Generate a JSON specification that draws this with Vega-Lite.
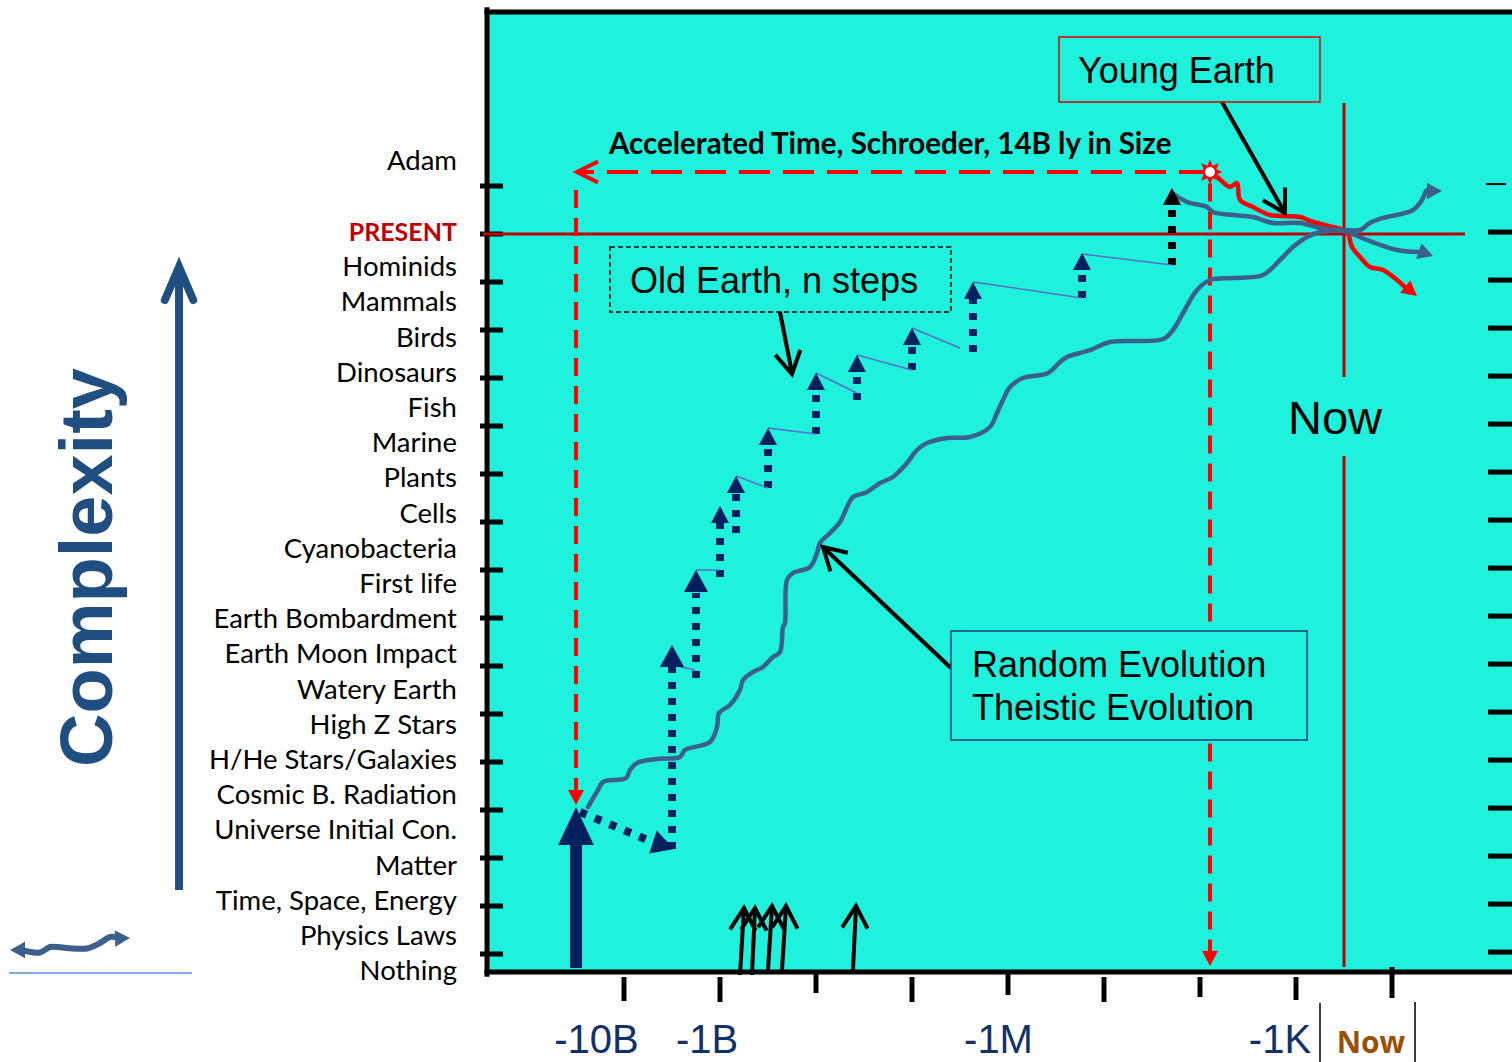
{
  "$schema": "https://vega.github.io/schema/vega-lite/v6.json",
  "width": 1512,
  "height": 1062,
  "autosize": {"type": "none"},
  "padding": 0,
  "background": "white",
  "config": {"view": {"stroke": null}},
  "datasets": {
    "frame": [{"x": -1.427, "x2": 9.3, "y": -0.375, "y2": 19.625}],
    "border": [
      {"x": -1.427, "y": -0.42, "x2": -1.427, "y2": 19.67},
      {"x": -1.427, "y": 19.625, "x2": 9.25, "y2": 19.625},
      {"x": -1.427, "y": -0.375, "x2": 9.25, "y2": -0.375}
    ],
    "ticks": [
      {"x": -1.5, "x2": -1.26, "y": 0, "y2": 0},
      {"x": -1.5, "x2": -1.26, "y": 1, "y2": 1},
      {"x": -1.5, "x2": -1.26, "y": 2, "y2": 2},
      {"x": -1.5, "x2": -1.26, "y": 3, "y2": 3},
      {"x": -1.5, "x2": -1.26, "y": 4, "y2": 4},
      {"x": -1.5, "x2": -1.26, "y": 5, "y2": 5},
      {"x": -1.5, "x2": -1.26, "y": 6, "y2": 6},
      {"x": -1.5, "x2": -1.26, "y": 7, "y2": 7},
      {"x": -1.5, "x2": -1.26, "y": 8, "y2": 8},
      {"x": -1.5, "x2": -1.26, "y": 9, "y2": 9},
      {"x": -1.5, "x2": -1.26, "y": 10, "y2": 10},
      {"x": -1.5, "x2": -1.26, "y": 11, "y2": 11},
      {"x": -1.5, "x2": -1.26, "y": 12, "y2": 12},
      {"x": -1.5, "x2": -1.26, "y": 13, "y2": 13},
      {"x": -1.5, "x2": -1.26, "y": 14, "y2": 14},
      {"x": -1.5, "x2": -1.26, "y": 15, "y2": 15},
      {"x": -1.5, "x2": -1.26, "y": 16, "y2": 16},
      {"x": 9.0, "x2": 9.25, "y": 0.04, "y2": 0.04},
      {"x": 9.0, "x2": 9.25, "y": 1.04, "y2": 1.04},
      {"x": 9.0, "x2": 9.25, "y": 2.04, "y2": 2.04},
      {"x": 9.0, "x2": 9.25, "y": 3.04, "y2": 3.04},
      {"x": 9.0, "x2": 9.25, "y": 4.04, "y2": 4.04},
      {"x": 9.0, "x2": 9.25, "y": 5.04, "y2": 5.04},
      {"x": 9.0, "x2": 9.25, "y": 6.04, "y2": 6.04},
      {"x": 9.0, "x2": 9.25, "y": 7.04, "y2": 7.04},
      {"x": 9.0, "x2": 9.25, "y": 8.04, "y2": 8.04},
      {"x": 9.0, "x2": 9.25, "y": 9.04, "y2": 9.04},
      {"x": 9.0, "x2": 9.25, "y": 10.04, "y2": 10.04},
      {"x": 9.0, "x2": 9.25, "y": 11.04, "y2": 11.04},
      {"x": 9.0, "x2": 9.25, "y": 12.04, "y2": 12.04},
      {"x": 9.0, "x2": 9.25, "y": 13.04, "y2": 13.04},
      {"x": 9.0, "x2": 9.25, "y": 14.04, "y2": 14.04},
      {"x": 9.0, "x2": 9.25, "y": 15.04, "y2": 15.04},
      {"x": 0, "x2": 0, "y": -0.479, "y2": -0.979},
      {"x": 1, "x2": 1, "y": -0.479, "y2": -1.0},
      {"x": 2, "x2": 2, "y": -0.333, "y2": -0.8125},
      {"x": 3, "x2": 3, "y": -0.479, "y2": -1.0},
      {"x": 4, "x2": 4, "y": -0.396, "y2": -0.854},
      {"x": 5, "x2": 5, "y": -0.479, "y2": -1.0},
      {"x": 6, "x2": 6, "y": -0.479, "y2": -0.896},
      {"x": 7, "x2": 7, "y": -0.479, "y2": -0.958},
      {"x": 8, "x2": 8, "y": -0.271, "y2": -0.917}
    ],
    "thintick": [{"x": 8.979, "x2": 9.188, "y": 16.04, "y2": 16.04}],
    "seps": [
      {"x": 7.25, "x2": 7.25, "y": -1.021, "y2": -2.3},
      {"x": 8.24, "x2": 8.24, "y": -1.0, "y2": -2.3}
    ],
    "redlines": [
      {"x": -1.469, "x2": 8.76, "y": 15.0, "y2": 15.0},
      {"x": 7.5, "x2": 7.5, "y": 17.729, "y2": 12.021},
      {"x": 7.5, "x2": 7.5, "y": 10.375, "y2": -0.271}
    ],
    "reddashh": [{"x": 6.104, "x2": -0.45, "y": 16.292, "y2": 16.292}],
    "reddashv": [
      {"x": -0.5, "x2": -0.5, "y": 15.917, "y2": 3.4},
      {"x": 6.104, "x2": 6.104, "y": 16.05, "y2": 0.06}
    ],
    "navydots": [
      {"x": -0.458, "y": 2.958, "x2": 0.323, "y2": 2.3125},
      {"x": 0.5, "y": 2.1875, "x2": 0.5, "y2": 5.979},
      {"x": 0.75, "y": 5.75, "x2": 0.75, "y2": 7.521},
      {"x": 1.0, "y": 7.854, "x2": 1.0, "y2": 8.979},
      {"x": 1.167, "y": 8.771, "x2": 1.167, "y2": 9.604},
      {"x": 1.5, "y": 9.708, "x2": 1.5, "y2": 10.583},
      {"x": 2.0, "y": 10.833, "x2": 2.0, "y2": 11.792},
      {"x": 2.427, "y": 11.542, "x2": 2.427, "y2": 12.125},
      {"x": 3.0, "y": 12.167, "x2": 3.0, "y2": 12.6875},
      {"x": 3.635, "y": 12.542, "x2": 3.635, "y2": 13.6875},
      {"x": 4.771, "y": 13.667, "x2": 4.771, "y2": 14.25}
    ],
    "blackdots": [{"x": 5.708, "y": 14.354, "x2": 5.708, "y2": 15.625}],
    "links": [
      {"x": 0.5, "y": 6.021, "x2": 0.74, "y2": 5.917},
      {"x": 0.75, "y": 8.0, "x2": 0.99, "y2": 8.0},
      {"x": 1.167, "y": 9.958, "x2": 1.5, "y2": 9.708},
      {"x": 1.5, "y": 10.958, "x2": 2.0, "y2": 10.833},
      {"x": 2.0, "y": 12.104, "x2": 2.427, "y2": 11.6875},
      {"x": 2.427, "y": 12.479, "x2": 3.0, "y2": 12.167},
      {"x": 3.0, "y": 13.042, "x2": 3.5, "y2": 12.625},
      {"x": 3.635, "y": 14.0, "x2": 4.771, "y2": 13.667},
      {"x": 4.771, "y": 14.583, "x2": 5.708, "y2": 14.354}
    ],
    "callouts": [
      {"x": 6.229, "y": 17.75, "x2": 6.885, "y2": 15.4375},
      {"x": 1.625, "y": 13.375, "x2": 1.75, "y2": 12.104},
      {"x": 3.406, "y": 5.958, "x2": 2.073, "y2": 8.479},
      {"x": 1.208, "y": -0.4375, "x2": 1.25, "y2": 0.958},
      {"x": 1.333, "y": -0.4375, "x2": 1.365, "y2": 0.958},
      {"x": 1.5, "y": -0.333, "x2": 1.542, "y2": 1.0},
      {"x": 1.646, "y": -0.333, "x2": 1.6875, "y2": 1.0},
      {"x": 2.385, "y": -0.333, "x2": 2.417, "y2": 1.0}
    ],
    "navyshaft": [{"x": -0.5, "y": -0.292, "x2": -0.5, "y2": 2.3}],
    "cpxshaft": [{"x": -4.635, "y": 1.333, "x2": -4.635, "y2": 14.146}],
    "bluethin": [{"x": -6.406, "y": -0.396, "x2": -4.5, "y2": -0.396}],
    "redcurve": [
      {"i": 1, "x": 6.125, "y": 16.25},
      {"i": 2, "x": 6.177, "y": 16.188},
      {"i": 3, "x": 6.3125, "y": 15.979},
      {"i": 4, "x": 6.385, "y": 16.063},
      {"i": 5, "x": 6.417, "y": 15.708},
      {"i": 6, "x": 6.552, "y": 15.5625},
      {"i": 7, "x": 6.729, "y": 15.396},
      {"i": 8, "x": 7.042, "y": 15.354},
      {"i": 9, "x": 7.177, "y": 15.25},
      {"i": 10, "x": 7.385, "y": 15.146},
      {"i": 11, "x": 7.531, "y": 15.042},
      {"i": 12, "x": 7.583, "y": 14.729},
      {"i": 13, "x": 7.667, "y": 14.521},
      {"i": 14, "x": 7.771, "y": 14.3125},
      {"i": 15, "x": 7.906, "y": 14.25},
      {"i": 16, "x": 8.052, "y": 14.042},
      {"i": 17, "x": 8.135, "y": 13.896}
    ],
    "bluecurves": [
      {"id": "main", "i": 1, "x": -0.375, "y": 3.0625},
      {"id": "main", "i": 2, "x": -0.271, "y": 3.417},
      {"id": "main", "i": 3, "x": -0.219, "y": 3.583},
      {"id": "main", "i": 4, "x": 0.021, "y": 3.667},
      {"id": "main", "i": 5, "x": 0.0625, "y": 3.833},
      {"id": "main", "i": 6, "x": 0.135, "y": 3.979},
      {"id": "main", "i": 7, "x": 0.344, "y": 4.0625},
      {"id": "main", "i": 8, "x": 0.583, "y": 4.104},
      {"id": "main", "i": 9, "x": 0.635, "y": 4.25},
      {"id": "main", "i": 10, "x": 0.896, "y": 4.417},
      {"id": "main", "i": 11, "x": 0.969, "y": 4.729},
      {"id": "main", "i": 12, "x": 0.99, "y": 5.021},
      {"id": "main", "i": 13, "x": 1.104, "y": 5.1875},
      {"id": "main", "i": 14, "x": 1.208, "y": 5.5},
      {"id": "main", "i": 15, "x": 1.24, "y": 5.708},
      {"id": "main", "i": 16, "x": 1.344, "y": 5.875},
      {"id": "main", "i": 17, "x": 1.448, "y": 5.979},
      {"id": "main", "i": 18, "x": 1.552, "y": 6.1875},
      {"id": "main", "i": 19, "x": 1.625, "y": 6.292},
      {"id": "main", "i": 20, "x": 1.656, "y": 6.8125},
      {"id": "main", "i": 21, "x": 1.677, "y": 6.896},
      {"id": "main", "i": 22, "x": 1.698, "y": 7.792},
      {"id": "main", "i": 23, "x": 1.76, "y": 7.9375},
      {"id": "main", "i": 24, "x": 1.9375, "y": 8.0625},
      {"id": "main", "i": 25, "x": 2.01, "y": 8.354},
      {"id": "main", "i": 26, "x": 2.042, "y": 8.5625},
      {"id": "main", "i": 27, "x": 2.146, "y": 8.771},
      {"id": "main", "i": 28, "x": 2.25, "y": 9.0},
      {"id": "main", "i": 29, "x": 2.323, "y": 9.3125},
      {"id": "main", "i": 30, "x": 2.385, "y": 9.521},
      {"id": "main", "i": 31, "x": 2.531, "y": 9.625},
      {"id": "main", "i": 32, "x": 2.667, "y": 9.8125},
      {"id": "main", "i": 33, "x": 2.802, "y": 9.9375},
      {"id": "main", "i": 34, "x": 2.948, "y": 10.229},
      {"id": "main", "i": 35, "x": 3.052, "y": 10.5},
      {"id": "main", "i": 36, "x": 3.156, "y": 10.646},
      {"id": "main", "i": 37, "x": 3.365, "y": 10.75},
      {"id": "main", "i": 38, "x": 3.604, "y": 10.771},
      {"id": "main", "i": 39, "x": 3.8125, "y": 10.979},
      {"id": "main", "i": 40, "x": 3.885, "y": 11.271},
      {"id": "main", "i": 41, "x": 3.948, "y": 11.542},
      {"id": "main", "i": 42, "x": 4.021, "y": 11.8125},
      {"id": "main", "i": 43, "x": 4.156, "y": 12.0},
      {"id": "main", "i": 44, "x": 4.417, "y": 12.104},
      {"id": "main", "i": 45, "x": 4.542, "y": 12.333},
      {"id": "main", "i": 46, "x": 4.615, "y": 12.4375},
      {"id": "main", "i": 47, "x": 4.854, "y": 12.583},
      {"id": "main", "i": 48, "x": 5.0625, "y": 12.75},
      {"id": "main", "i": 49, "x": 5.615, "y": 12.8125},
      {"id": "main", "i": 50, "x": 5.719, "y": 13.0},
      {"id": "main", "i": 51, "x": 5.823, "y": 13.354},
      {"id": "main", "i": 52, "x": 5.969, "y": 13.833},
      {"id": "main", "i": 53, "x": 6.104, "y": 14.042},
      {"id": "main", "i": 54, "x": 6.344, "y": 14.083},
      {"id": "main", "i": 55, "x": 6.656, "y": 14.146},
      {"id": "main", "i": 56, "x": 6.833, "y": 14.458},
      {"id": "main", "i": 57, "x": 6.969, "y": 14.729},
      {"id": "main", "i": 58, "x": 7.115, "y": 14.938},
      {"id": "main", "i": 59, "x": 7.25, "y": 15.042},
      {"id": "main", "i": 60, "x": 7.51, "y": 15.083},
      {"id": "main", "i": 61, "x": 7.667, "y": 15.083},
      {"id": "main", "i": 62, "x": 7.771, "y": 15.229},
      {"id": "main", "i": 63, "x": 7.906, "y": 15.333},
      {"id": "main", "i": 64, "x": 8.219, "y": 15.5},
      {"id": "main", "i": 65, "x": 8.3125, "y": 15.708},
      {"id": "main", "i": 66, "x": 8.365, "y": 15.917},
      {"id": "main", "i": 67, "x": 8.4, "y": 15.917},
      {"id": "upper", "i": 1, "x": 5.708, "y": 15.854},
      {"id": "upper", "i": 2, "x": 5.865, "y": 15.667},
      {"id": "upper", "i": 3, "x": 6.073, "y": 15.5625},
      {"id": "upper", "i": 4, "x": 6.135, "y": 15.458},
      {"id": "upper", "i": 5, "x": 6.344, "y": 15.396},
      {"id": "upper", "i": 6, "x": 6.552, "y": 15.354},
      {"id": "upper", "i": 7, "x": 6.76, "y": 15.229},
      {"id": "upper", "i": 8, "x": 7.042, "y": 15.229},
      {"id": "upper", "i": 9, "x": 7.25, "y": 15.125},
      {"id": "upper", "i": 10, "x": 7.531, "y": 15.042},
      {"id": "upper", "i": 11, "x": 7.74, "y": 14.875},
      {"id": "upper", "i": 12, "x": 8.052, "y": 14.667},
      {"id": "upper", "i": 13, "x": 8.292, "y": 14.625}
    ],
    "wavy": [
      {"i": 1, "x": -6.271, "y": 0.083},
      {"i": 2, "x": -6.083, "y": 0.03},
      {"i": 3, "x": -5.979, "y": 0.146},
      {"i": 4, "x": -5.802, "y": 0.125},
      {"i": 5, "x": -5.594, "y": 0.115},
      {"i": 6, "x": -5.458, "y": 0.229},
      {"i": 7, "x": -5.354, "y": 0.354},
      {"i": 8, "x": -5.271, "y": 0.333}
    ],
    "boxes": [
      {"box": "young", "x": 4.531, "x2": 7.25, "y": 19.104, "y2": 17.75},
      {"box": "old", "x": -0.146, "x2": 3.406, "y": 14.729, "y2": 13.375},
      {"box": "random", "x": 3.406, "x2": 7.115, "y": 6.729, "y2": 4.458}
    ],
    "heads": [
      {"cls": "big", "x": -0.5, "y": 3.0625, "dir": 0},
      {"cls": "med", "x": 0.5, "y": 6.4375, "dir": 0},
      {"cls": "med", "x": 0.75, "y": 8.0, "dir": 0},
      {"cls": "med", "x": 0.52, "y": 2.19, "dir": 108},
      {"cls": "small", "x": 1.0, "y": 9.333, "dir": 0},
      {"cls": "small", "x": 1.167, "y": 9.958, "dir": 0},
      {"cls": "small", "x": 1.5, "y": 10.958, "dir": 0},
      {"cls": "small", "x": 2.0, "y": 12.104, "dir": 0},
      {"cls": "small", "x": 2.427, "y": 12.479, "dir": 0},
      {"cls": "small", "x": 3.0, "y": 13.042, "dir": 0},
      {"cls": "small", "x": 3.635, "y": 14.0, "dir": 0},
      {"cls": "small", "x": 4.771, "y": 14.604, "dir": 0},
      {"cls": "smallk", "x": 5.708, "y": 15.958, "dir": 0},
      {"cls": "red", "x": -0.5, "y": 3.104, "dir": 180},
      {"cls": "red", "x": 6.104, "y": -0.25, "dir": 180},
      {"cls": "red", "x": 8.26, "y": 13.708, "dir": 129},
      {"cls": "blue", "x": 8.521, "y": 15.896, "dir": 90},
      {"cls": "blue", "x": 8.427, "y": 14.542, "dir": 109},
      {"cls": "blue", "x": -6.396, "y": 0.083, "dir": 270},
      {"cls": "blue", "x": -5.146, "y": 0.333, "dir": 88}
    ],
    "chevrons": [
      {"cls": "call", "x": 6.885, "y": 15.4375, "dir": 150},
      {"cls": "call", "x": 1.75, "y": 12.083, "dir": 169},
      {"cls": "call", "x": 2.073, "y": 8.479, "dir": 313},
      {"cls": "call", "x": 1.25, "y": 0.958, "dir": 3},
      {"cls": "call", "x": 1.365, "y": 0.958, "dir": 3},
      {"cls": "call", "x": 1.542, "y": 1.0, "dir": 3},
      {"cls": "call", "x": 1.6875, "y": 1.0, "dir": 3},
      {"cls": "call", "x": 2.417, "y": 1.0, "dir": 3},
      {"cls": "red", "x": -0.49, "y": 16.292, "dir": 270},
      {"cls": "cpx", "x": -4.635, "y": 14.3125, "dir": 0}
    ],
    "star": [{"x": 6.104, "y": 16.292}],
    "labels": [
      {"t": "Adam", "x": -1.74, "y": 16.333},
      {"t": "Hominids", "x": -1.74, "y": 14.121},
      {"t": "Mammals", "x": -1.74, "y": 13.388},
      {"t": "Birds", "x": -1.74, "y": 12.654},
      {"t": "Dinosaurs", "x": -1.74, "y": 11.921},
      {"t": "Fish", "x": -1.74, "y": 11.188},
      {"t": "Marine", "x": -1.74, "y": 10.454},
      {"t": "Plants", "x": -1.74, "y": 9.721},
      {"t": "Cells", "x": -1.74, "y": 8.988},
      {"t": "Cyanobacteria", "x": -1.74, "y": 8.254},
      {"t": "First life", "x": -1.74, "y": 7.521},
      {"t": "Earth Bombardment", "x": -1.74, "y": 6.788},
      {"t": "Earth Moon Impact", "x": -1.74, "y": 6.054},
      {"t": "Watery Earth", "x": -1.74, "y": 5.321},
      {"t": "High Z Stars", "x": -1.74, "y": 4.588},
      {"t": "H/He Stars/Galaxies", "x": -1.74, "y": 3.854},
      {"t": "Cosmic B. Radiation", "x": -1.74, "y": 3.121},
      {"t": "Universe Initial Con.", "x": -1.74, "y": 2.388},
      {"t": "Matter", "x": -1.74, "y": 1.654},
      {"t": "Time, Space, Energy", "x": -1.74, "y": 0.921},
      {"t": "Physics Laws", "x": -1.74, "y": 0.1875},
      {"t": "Nothing", "x": -1.74, "y": -0.546}
    ],
    "present": [{"t": "PRESENT", "x": -1.74, "y": 14.854}],
    "xlabels": [
      {"t": "-10B", "x": -0.286, "y": -2.07},
      {"t": "-1B", "x": 0.865, "y": -2.07},
      {"t": "-1M", "x": 3.901, "y": -2.07},
      {"t": "-1K", "x": 6.833, "y": -2.07}
    ],
    "nowlabel": [{"t": "Now", "x": 7.781, "y": -2.07}],
    "title": [{"t": "Complexity", "x": -5.333, "y": 8.052}],
    "accel": [{"t": "Accelerated Time, Schroeder, 14B ly in Size", "x": -0.156, "y": 16.667}],
    "notes": [
      {"t": "Young Earth", "x": 4.729, "y": 18.146},
      {"t": "Old Earth, n steps", "x": 0.0625, "y": 13.771},
      {"t": "Random Evolution", "x": 3.625, "y": 5.771},
      {"t": "Theistic Evolution", "x": 3.625, "y": 4.875}
    ],
    "bignow": [{"t": "Now", "x": 7.406, "y": 10.833}]
  },
  "encoding": {
    "x": {"field": "x", "type": "quantitative", "scale": {"domain": [-6.5, 9.25], "nice": false, "zero": false}, "axis": null},
    "y": {"field": "y", "type": "quantitative", "scale": {"domain": [-2.25, 19.875], "nice": false, "zero": false}, "axis": null}
  },
  "layer": [
    {"data": {"name": "frame"}, "mark": {"type": "rect", "fill": "#1ef1dc", "strokeWidth": 0}, "encoding": {"x2": {"field": "x2"}, "y2": {"field": "y2"}}},
    {"data": {"name": "border"}, "mark": {"type": "rule", "color": "#000000", "strokeWidth": 5, "strokeCap": "square"}, "encoding": {"x2": {"field": "x2"}, "y2": {"field": "y2"}}},
    {"data": {"name": "ticks"}, "mark": {"type": "rule", "color": "#000000", "strokeWidth": 5}, "encoding": {"x2": {"field": "x2"}, "y2": {"field": "y2"}}},
    {"data": {"name": "thintick"}, "mark": {"type": "rule", "color": "#000000", "strokeWidth": 2}, "encoding": {"x2": {"field": "x2"}, "y2": {"field": "y2"}}},
    {"data": {"name": "seps"}, "mark": {"type": "rule", "color": "#000000", "strokeWidth": 1.5}, "encoding": {"x2": {"field": "x2"}, "y2": {"field": "y2"}}},
    {"data": {"name": "redlines"}, "mark": {"type": "rule", "color": "#c00000", "strokeWidth": 3}, "encoding": {"x2": {"field": "x2"}, "y2": {"field": "y2"}}},
    {"data": {"name": "reddashh"}, "mark": {"type": "rule", "color": "#ff0000", "strokeWidth": 4, "strokeDash": [31, 13]}, "encoding": {"x2": {"field": "x2"}, "y2": {"field": "y2"}}},
    {"data": {"name": "reddashv"}, "mark": {"type": "rule", "color": "#ff0000", "strokeWidth": 4, "strokeDash": [18, 10]}, "encoding": {"x2": {"field": "x2"}, "y2": {"field": "y2"}}},
    {"data": {"name": "navydots"}, "mark": {"type": "rule", "color": "#002060", "strokeWidth": 8, "strokeDash": [7, 9]}, "encoding": {"x2": {"field": "x2"}, "y2": {"field": "y2"}}},
    {"data": {"name": "blackdots"}, "mark": {"type": "rule", "color": "#000000", "strokeWidth": 8, "strokeDash": [7, 9]}, "encoding": {"x2": {"field": "x2"}, "y2": {"field": "y2"}}},
    {"data": {"name": "links"}, "mark": {"type": "rule", "color": "#5a6ec8", "strokeWidth": 1.5}, "encoding": {"x2": {"field": "x2"}, "y2": {"field": "y2"}}},
    {"data": {"name": "callouts"}, "mark": {"type": "rule", "color": "#000000", "strokeWidth": 4}, "encoding": {"x2": {"field": "x2"}, "y2": {"field": "y2"}}},
    {"data": {"name": "navyshaft"}, "mark": {"type": "rule", "color": "#002060", "strokeWidth": 12}, "encoding": {"x2": {"field": "x2"}, "y2": {"field": "y2"}}},
    {"data": {"name": "cpxshaft"}, "mark": {"type": "rule", "color": "#1f4e80", "strokeWidth": 8}, "encoding": {"x2": {"field": "x2"}, "y2": {"field": "y2"}}},
    {"data": {"name": "bluethin"}, "mark": {"type": "rule", "color": "#5b8bd0", "strokeWidth": 1.5}, "encoding": {"x2": {"field": "x2"}, "y2": {"field": "y2"}}},
    {"data": {"name": "redcurve"}, "mark": {"type": "line", "color": "#ff0000", "strokeWidth": 4.5, "strokeJoin": "round", "strokeCap": "round", "interpolate": "catmull-rom"}, "encoding": {"order": {"field": "i", "type": "quantitative"}}},
    {"data": {"name": "bluecurves"}, "mark": {"type": "line", "color": "#3d5f8c", "strokeWidth": 4.5, "strokeJoin": "round", "strokeCap": "round", "interpolate": "catmull-rom"}, "encoding": {"detail": {"field": "id", "type": "nominal"}, "order": {"field": "i", "type": "quantitative"}}},
    {"data": {"name": "wavy"}, "mark": {"type": "line", "color": "#3d5f8c", "strokeWidth": 6, "strokeJoin": "round", "strokeCap": "round", "interpolate": "catmull-rom"}, "encoding": {"order": {"field": "i", "type": "quantitative"}}},
    {"data": {"name": "boxes"}, "transform": [{"filter": "datum.box === 'young'"}], "mark": {"type": "rect", "fill": null, "fillOpacity": 0, "stroke": "#e00000", "strokeWidth": 1.5}, "encoding": {"x2": {"field": "x2"}, "y2": {"field": "y2"}}},
    {"data": {"name": "boxes"}, "transform": [{"filter": "datum.box === 'old'"}], "mark": {"type": "rect", "fill": null, "fillOpacity": 0, "stroke": "#000000", "strokeWidth": 1.5, "strokeDash": [5, 3]}, "encoding": {"x2": {"field": "x2"}, "y2": {"field": "y2"}}},
    {"data": {"name": "boxes"}, "transform": [{"filter": "datum.box === 'random'"}], "mark": {"type": "rect", "fill": "#1ef1dc", "stroke": "#1f3a7a", "strokeWidth": 1.5}, "encoding": {"x2": {"field": "x2"}, "y2": {"field": "y2"}}},
    {"data": {"name": "heads"}, "transform": [{"filter": "datum.cls === 'big'"}], "mark": {"type": "point", "filled": true, "opacity": 1, "color": "#002060", "shape": "M0,0L-0.47,1L0.47,1Z", "size": 5776}, "encoding": {"angle": {"field": "dir", "type": "quantitative", "scale": null}}},
    {"data": {"name": "heads"}, "transform": [{"filter": "datum.cls === 'med'"}], "mark": {"type": "point", "filled": true, "opacity": 1, "color": "#002060", "shape": "M0,0L-0.55,1L0.55,1Z", "size": 1936}, "encoding": {"angle": {"field": "dir", "type": "quantitative", "scale": null}}},
    {"data": {"name": "heads"}, "transform": [{"filter": "datum.cls === 'small'"}], "mark": {"type": "point", "filled": true, "opacity": 1, "color": "#002060", "shape": "M0,0L-0.53,1L0.53,1Z", "size": 1156}, "encoding": {"angle": {"field": "dir", "type": "quantitative", "scale": null}}},
    {"data": {"name": "heads"}, "transform": [{"filter": "datum.cls === 'smallk'"}], "mark": {"type": "point", "filled": true, "opacity": 1, "color": "#000000", "shape": "M0,0L-0.53,1L0.53,1Z", "size": 1156}, "encoding": {"angle": {"field": "dir", "type": "quantitative", "scale": null}}},
    {"data": {"name": "heads"}, "transform": [{"filter": "datum.cls === 'red'"}], "mark": {"type": "point", "filled": true, "opacity": 1, "color": "#ff0000", "shape": "M0,0L-0.53,1L0.53,1Z", "size": 900}, "encoding": {"angle": {"field": "dir", "type": "quantitative", "scale": null}}},
    {"data": {"name": "heads"}, "transform": [{"filter": "datum.cls === 'blue'"}], "mark": {"type": "point", "filled": true, "opacity": 1, "color": "#3d5f8c", "shape": "M0,0L-0.55,1L0.55,1Z", "size": 900}, "encoding": {"angle": {"field": "dir", "type": "quantitative", "scale": null}}},
    {"data": {"name": "chevrons"}, "transform": [{"filter": "datum.cls === 'call'"}], "mark": {"type": "point", "filled": false, "opacity": 1, "color": "#000000", "strokeWidth": 4, "shape": "M-0.58,1L0,0L0.58,1", "size": 1936}, "encoding": {"angle": {"field": "dir", "type": "quantitative", "scale": null}}},
    {"data": {"name": "chevrons"}, "transform": [{"filter": "datum.cls === 'red'"}], "mark": {"type": "point", "filled": false, "opacity": 1, "color": "#ff0000", "strokeWidth": 4, "shape": "M-0.5,1L0,0L0.5,1", "size": 1764}, "encoding": {"angle": {"field": "dir", "type": "quantitative", "scale": null}}},
    {"data": {"name": "chevrons"}, "transform": [{"filter": "datum.cls === 'cpx'"}], "mark": {"type": "point", "filled": false, "opacity": 1, "color": "#1f4e80", "strokeWidth": 8, "strokeCap": "round", "shape": "M-0.43,1L0,0L0.43,1", "size": 4356}, "encoding": {"angle": {"field": "dir", "type": "quantitative", "scale": null}}},
    {"data": {"name": "star"}, "mark": {"type": "point", "filled": true, "opacity": 1, "color": "#ff0000", "shape": "M0,-1L0.21,-0.51L0.71,-0.71L0.51,-0.21L1,0L0.51,0.21L0.71,0.71L0.21,0.51L0,1L-0.21,0.51L-0.71,0.71L-0.51,0.21L-1,0L-0.51,-0.21L-0.71,-0.71L-0.21,-0.51Z", "size": 620}},
    {"data": {"name": "star"}, "mark": {"type": "point", "filled": true, "opacity": 1, "color": "#ffffff", "shape": "circle", "size": 100}},
    {"data": {"name": "labels"}, "mark": {"type": "text", "font": "Lato", "fontSize": 27.5, "color": "#000000", "align": "right", "baseline": "alphabetic"}, "encoding": {"text": {"field": "t"}}},
    {"data": {"name": "present"}, "mark": {"type": "text", "font": "Lato", "fontSize": 25, "fontWeight": "bold", "color": "#c00000", "align": "right", "baseline": "alphabetic"}, "encoding": {"text": {"field": "t"}}},
    {"data": {"name": "xlabels"}, "mark": {"type": "text", "font": "Liberation Sans", "fontSize": 40, "color": "#12306a", "align": "center", "baseline": "alphabetic"}, "encoding": {"text": {"field": "t"}}},
    {"data": {"name": "nowlabel"}, "mark": {"type": "text", "font": "Open Sans", "fontSize": 30, "fontWeight": "bold", "color": "#9c4f05", "align": "center", "baseline": "alphabetic"}, "encoding": {"text": {"field": "t"}}},
    {"data": {"name": "title"}, "mark": {"type": "text", "font": "Liberation Sans", "fontSize": 74, "fontWeight": "bold", "color": "#1f4e80", "align": "center", "baseline": "alphabetic", "angle": 270}, "encoding": {"text": {"field": "t"}}},
    {"data": {"name": "accel"}, "mark": {"type": "text", "font": "Lato", "fontSize": 29.5, "fontWeight": "bold", "color": "#000000", "align": "left", "baseline": "alphabetic"}, "encoding": {"text": {"field": "t"}}},
    {"data": {"name": "notes"}, "mark": {"type": "text", "font": "Liberation Sans", "fontSize": 36, "color": "#000000", "align": "left", "baseline": "alphabetic"}, "encoding": {"text": {"field": "t"}}},
    {"data": {"name": "bignow"}, "mark": {"type": "text", "font": "Liberation Sans", "fontSize": 47, "color": "#000000", "align": "center", "baseline": "alphabetic"}, "encoding": {"text": {"field": "t"}}}
  ]
}
